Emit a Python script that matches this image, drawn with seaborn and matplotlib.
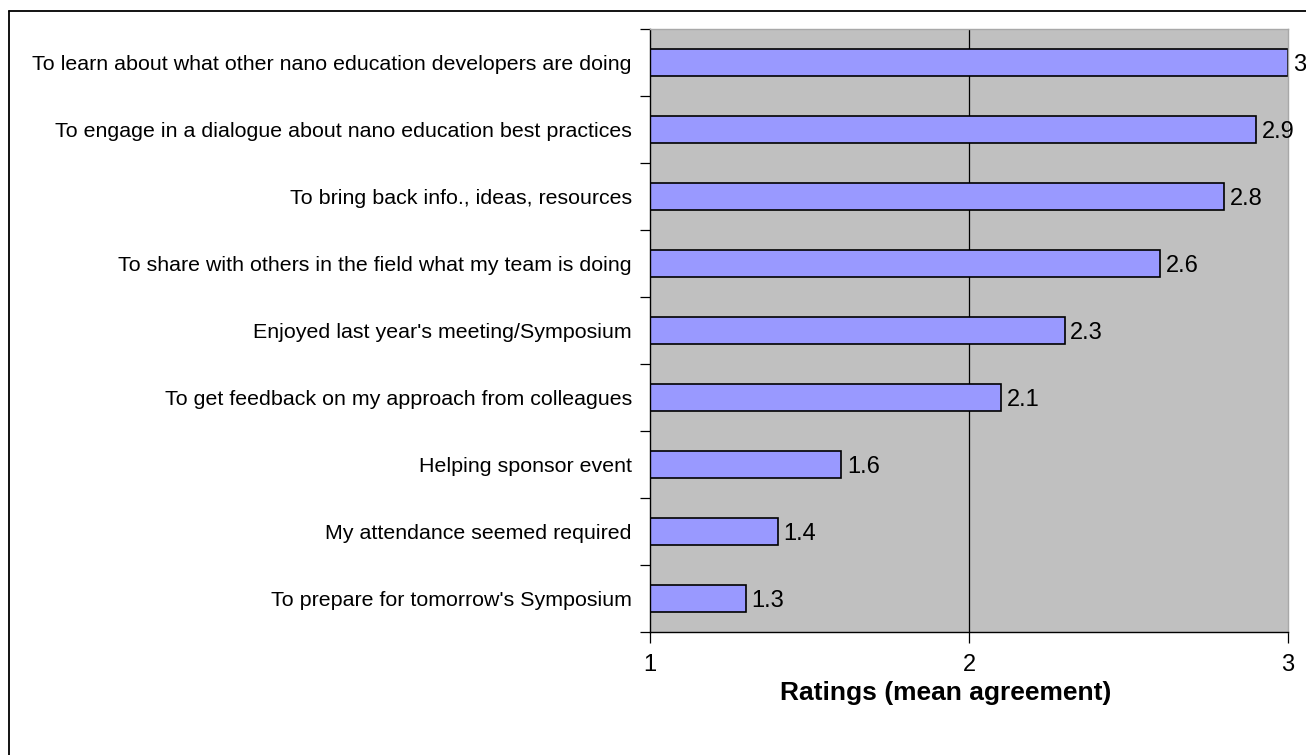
import matplotlib
matplotlib.use("Agg")
import matplotlib.pyplot as plt
from matplotlib.lines import Line2D
from matplotlib.ticker import FixedLocator
import seaborn as sns
import pandas as pd

reasons = [
    "To learn about what other nano education developers are doing",
    "To engage in a dialogue about nano education best practices",
    "To bring back info., ideas, resources",
    "To share with others in the field what my team is doing",
    "Enjoyed last year's meeting/Symposium",
    "To get feedback on my approach from colleagues",
    "Helping sponsor event",
    "My attendance seemed required",
    "To prepare for tomorrow's Symposium",
]
ratings = [3.0, 2.9, 2.8, 2.6, 2.3, 2.1, 1.6, 1.4, 1.3]
x_ticks = [1, 2, 3]
x_label = "Ratings (mean agreement)"

df = pd.DataFrame({"reason": reasons, "rating": ratings})

sns.set_theme(style="white")
plt.rcParams["font.family"] = ["Liberation Sans", "DejaVu Sans"]

W, H = 1306, 755
fig = plt.figure(figsize=(W / 100, H / 100), dpi=100)
ax = fig.add_axes([650 / W, 1 - 632 / H, (1288 - 650) / W, (632 - 29) / H])

sns.barplot(data=df, y="reason", x="rating", orient="h", ax=ax,
            color="#9999FF", saturation=1, width=0.4,
            edgecolor="black", linewidth=1.2)

ax.set_facecolor("#C0C0C0")
ax.set_xlim(1, 3)
ax.set_ylim(len(reasons) - 0.5, -0.5)

# vertical gridline at the middle tick
ax.axvline(2, color="black", linewidth=0.9, zorder=0.5)

# category separator ticks on the left axis, labels at category centres
ax.yaxis.set_major_locator(FixedLocator([i - 0.5 for i in range(len(reasons) + 1)]))
ax.yaxis.set_minor_locator(FixedLocator(list(range(len(reasons)))))
ax.yaxis.set_major_formatter(plt.NullFormatter())
ax.yaxis.set_minor_formatter(plt.FixedFormatter(reasons))
ax.tick_params(axis="y", which="major", left=True, length=7, width=0.9,
               color="black", direction="out")
ax.tick_params(axis="y", which="minor", left=True, length=0, pad=13,
               labelsize=15.4, labelcolor="black")

ax.set_xticks(x_ticks)
ax.set_xticklabels([str(t) for t in x_ticks])
ax.tick_params(axis="x", bottom=True, length=8, width=0.9, color="black",
               direction="out", pad=8, labelsize=17, labelcolor="black")

ax.set_ylabel("")
ax.set_xlabel(x_label, fontsize=19, fontweight="bold", color="black")
ax.xaxis.set_label_coords(0.464, -0.081)

for side in ["left", "bottom"]:
    ax.spines[side].set_color("black")
    ax.spines[side].set_linewidth(1.0)
for side in ["top", "right"]:
    ax.spines[side].set_color("#A8A8A8")
    ax.spines[side].set_linewidth(1.0)

# value labels to the right of each bar
for i, v in enumerate(ratings):
    ax.annotate(f"{v:g}", xy=(v, i), xytext=(4, -1.5), textcoords="offset points",
                ha="left", va="center", fontsize=17, color="black",
                annotation_clip=False)

# outer frame (left and top edges)
fig.add_artist(Line2D([9 / W, 9 / W], [0, 1 - 11 / H], transform=fig.transFigure,
                      color="black", linewidth=1.3))
fig.add_artist(Line2D([9 / W, 1], [1 - 11 / H, 1 - 11 / H], transform=fig.transFigure,
                      color="black", linewidth=1.3))

fig.savefig("out.png", dpi=100, facecolor="white")
